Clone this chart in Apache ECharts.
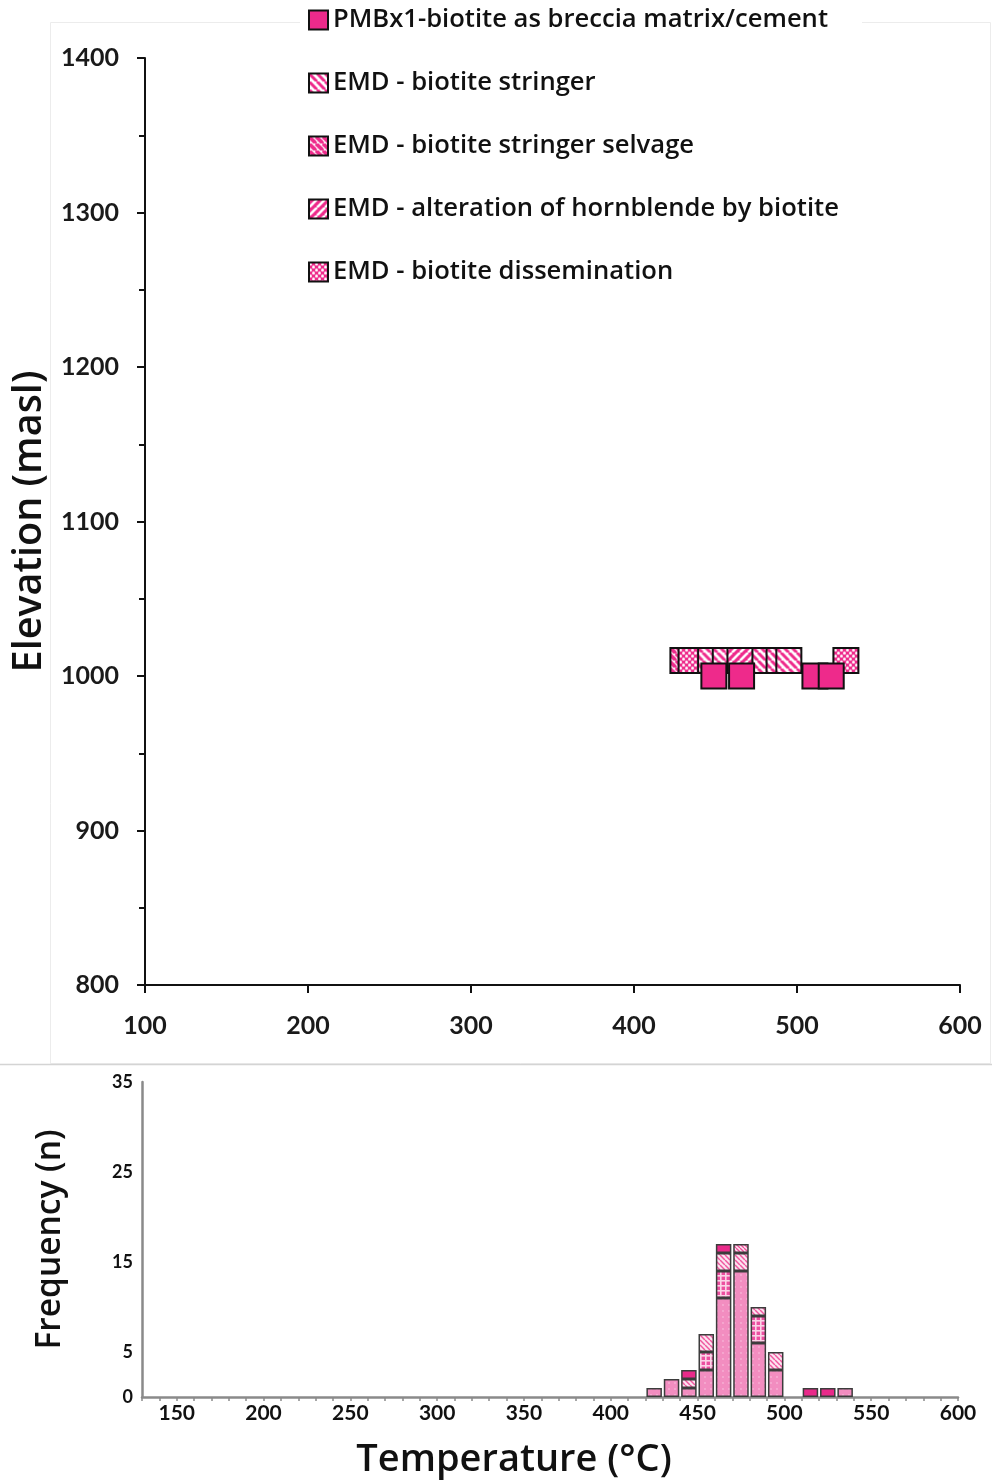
<!DOCTYPE html>
<html>
<head>
<meta charset="utf-8">
<script src="https://cdn.jsdelivr.net/npm/echarts@6/dist/echarts.min.js"></script>
<style>
  html, body { margin: 0; padding: 0; background: #fff; }
  #chart { width: 992px; height: 1482px; }
</style>
</head>
<body>
<div id="chart"></div>
<script>
// ---- Upper panel: biotite temperature (°C) against sample elevation (masl) ----
const pmbTemps        = [449, 466, 511, 521];
const pmbElev         = [1000, 1000, 1000, 1000];
const stringerTemps   = [447, 456, 476, 489, 495];
const stringerElev    = [1010, 1010, 1010, 1010, 1010];
const selvageTemps    = [430, 484];
const selvageElev     = [1010, 1010];
const alterationTemps = [465];
const alterationElev  = [1010];
const dissemTemps     = [435, 530];
const dissemElev      = [1010, 1010];

// ---- Lower panel: temperature histogram, 10 °C bins (bin centres) ----
const binCentres      = [425, 435, 445, 455, 465, 475, 485, 495, 515, 525, 535];
const histDissem      = [1, 2, 1, 3, 11, 14, 6, 3, 0, 0, 1];
const histAlteration  = [0, 0, 0, 2, 3, 0, 3, 0, 0, 0, 0];
const histStringer    = [0, 0, 1, 2, 2, 2, 1, 2, 0, 0, 0];
const histSelvage     = [0, 0, 0, 0, 0, 1, 0, 0, 0, 0, 0];
const histPmb         = [0, 0, 1, 0, 1, 0, 0, 0, 1, 1, 0];
const freqLabels      = [0, 5, 15, 25, 35];

const seriesNames = [
  'PMBx1-biotite as breccia matrix/cement',
  'EMD - biotite stringer',
  'EMD - biotite stringer selvage',
  'EMD - alteration of hornblende by biotite',
  'EMD - biotite dissemination'
];

// Histogram bins span the 130–600 °C axis in 10 °C steps
const HIST_MIN = 130, HIST_MAX = 600, BIN = 10;
const binStarts = [];
for (let t = HIST_MIN; t < HIST_MAX; t += BIN) binStarts.push(t);
const binData = arr => binStarts.map(s => {
  const i = binCentres.indexOf(s + BIN / 2);
  return i >= 0 && arr[i] > 0 ? arr[i] : '-';
});

// ---- fill patterns ----
const PINK = '#EE2A8B';
function makeTile(w, draw) {
  const c = document.createElement('canvas');
  c.width = w; c.height = w;
  draw(c.getContext('2d'), w);
  return c;
}
function diag(g, w, lw, color, dir) {
  g.strokeStyle = color; g.lineWidth = lw;
  for (let k = -1; k <= 1; k++) {
    g.beginPath();
    if (dir > 0) { g.moveTo(k * w, 0); g.lineTo(k * w + w, w); }
    else { g.moveTo(k * w, w); g.lineTo(k * w + w, 0); }
    g.stroke();
  }
}
// pattern for a drawn shape; symbols are scaled from a 2-unit path, so counter-scale their fill
function pattern(canvas, scale) {
  return { image: canvas, repeat: 'repeat', scaleX: scale || 1, scaleY: scale || 1 };
}
const tileStringer = makeTile(8, (g, w) => { g.fillStyle = '#fff'; g.fillRect(0, 0, w, w); diag(g, w, 3, PINK, 1); });
const tileSelvage  = makeTile(7, (g, w) => { g.fillStyle = '#fff'; g.fillRect(0, 0, w, w); diag(g, w, 3.8, PINK, 1); });
const tileAlter    = makeTile(8, (g, w) => { g.fillStyle = PINK; g.fillRect(0, 0, w, w); diag(g, w, 2.6, '#fff', -1); });
const tileDissem   = makeTile(6, (g, w) => {
  g.fillStyle = PINK; g.fillRect(0, 0, w, w);
  g.fillStyle = '#fff';
  [[1.5, 1.5], [4.5, 4.5]].forEach(p => { g.beginPath(); g.arc(p[0], p[1], 1.5, 0, Math.PI * 2); g.fill(); });
});

const histFillDots = pattern(makeTile(6, (g, w) => {
  g.fillStyle = '#F28DC0'; g.fillRect(0, 0, w, w);
  g.fillStyle = '#F7B2D5';
  g.beginPath(); g.arc(3, 3, 0.9, 0, Math.PI * 2); g.fill();
}));
const histFillGrid = pattern(makeTile(5, (g, w) => {
  g.fillStyle = '#EC4FA0'; g.fillRect(0, 0, w, w);
  g.fillStyle = '#FBD3E7'; g.fillRect(0, 0, w, 1.6); g.fillRect(0, 0, 1.6, w);
}));
const histFillHatch  = pattern(makeTile(5, (g, w) => { g.fillStyle = '#FCE3F0'; g.fillRect(0, 0, w, w); diag(g, w, 1.5, '#F0589F', 1); }));
const histFillHatch2 = pattern(makeTile(4, (g, w) => { g.fillStyle = '#FCE3F0'; g.fillRect(0, 0, w, w); diag(g, w, 1.3, '#EE4C98', 1); }));

const MARKER = 25;
const SYM_SCALE = 2 / MARKER;
const markerFills = [PINK, tileStringer, tileSelvage, tileAlter, tileDissem];

const FONT = 'Lato';
const TITLE_FONT = 'Open Sans';
const pairs = (xs, ys) => xs.map((x, i) => [x, ys[i]]);

function scatter(idx, xs, ys, z) {
  const f = markerFills[idx];
  return {
    type: 'scatter', name: seriesNames[idx], xAxisIndex: 0, yAxisIndex: 0,
    symbol: 'rect', symbolSize: MARKER, z,
    data: pairs(xs, ys),
    itemStyle: { color: typeof f === 'string' ? f : pattern(f, SYM_SCALE), borderColor: '#111', borderWidth: 2, opacity: 1 }
  };
}
function histBar(name, arr, fill) {
  return {
    type: 'bar', name, xAxisIndex: 1, yAxisIndex: 1, stack: 'freq',
    barWidth: 15.5, data: binData(arr),
    itemStyle: { color: fill, borderColor: '#3c3c3c', borderWidth: 1.5 }
  };
}

const chart = echarts.init(document.getElementById('chart'), null, { renderer: 'canvas' });
chart.setOption({
  animation: false,
  backgroundColor: '#fff',
  textStyle: { fontFamily: FONT },
  graphic: [
    { type: 'rect', z: -10, shape: { x: 50.5, y: 22.5, width: 940, height: 1041 }, style: { fill: 'none', stroke: '#ececec', lineWidth: 1 } },
    { type: 'rect', z: -9, shape: { x: 300, y: 0, width: 562, height: 40 }, style: { fill: '#fff' } },
    { type: 'line', z: -10, shape: { x1: 0, y1: 1064.5, x2: 992, y2: 1064.5 }, style: { stroke: '#d4d4d4', lineWidth: 1.5 } },
    { type: 'text', z: 10, x: 514, y: 1460,
      style: { text: 'Temperature (°C)', align: 'center', verticalAlign: 'middle',
               fontFamily: TITLE_FONT, fontWeight: 600, fontSize: 38, fill: '#111' } }
  ],
  legend: {
    orient: 'vertical', left: 308, top: 7, padding: 0,
    itemWidth: 19, itemHeight: 19, itemGap: 37, icon: 'rect',
    selectedMode: false,
    textStyle: { fontFamily: TITLE_FONT, fontWeight: 600, fontSize: 25.6, color: '#111', lineHeight: 26 },
    data: seriesNames.map((n, i) => ({
      name: n,
      itemStyle: { color: typeof markerFills[i] === 'string' ? markerFills[i] : pattern(markerFills[i]) }
    }))
  },
  grid: [
    { left: 145, right: 32, top: 58, bottom: 497 },
    { left: 142, right: 34, top: 1082, bottom: 85 }
  ],
  xAxis: [
    {
      gridIndex: 0, type: 'value', min: 100, max: 600, interval: 100, position: 'bottom',
      axisLine: { show: true, lineStyle: { color: '#111', width: 2 } },
      axisTick: { show: true, length: 8, lineStyle: { color: '#111', width: 2 } },
      splitLine: { show: false },
      axisLabel: { margin: 28, fontFamily: FONT, fontWeight: 'bold', fontSize: 25, color: '#1a1a1a',
                   formatter: v => String(v) }
    },
    {
      // bins the bars sit in
      gridIndex: 1, type: 'category', data: binStarts, boundaryGap: true, show: false, position: 'bottom'
    },
    {
      // visible temperature scale under the histogram
      gridIndex: 1, type: 'value', min: HIST_MIN, max: HIST_MAX, interval: BIN, position: 'bottom',
      axisLine: { show: true, onZero: false, lineStyle: { color: '#8a8a8a', width: 2.5 } },
      axisTick: { show: true, length: 4, lineStyle: { color: '#8a8a8a', width: 1.5 } },
      splitLine: { show: false },
      axisLabel: {
        margin: 6, fontFamily: FONT, fontWeight: 'bold', fontSize: 21, color: '#111',
        formatter: v => (v % 50 === 0 ? String(v) : '')
      }
    }
  ],
  yAxis: [
    {
      gridIndex: 0, type: 'value', min: 800, max: 1400, interval: 100,
      name: 'Elevation (masl)', nameLocation: 'middle', nameGap: 83,
      nameTextStyle: { fontFamily: TITLE_FONT, fontWeight: 600, fontSize: 39.5, color: '#111' },
      axisLine: { show: true, lineStyle: { color: '#111', width: 2 } },
      axisTick: { show: true, length: 8, lineStyle: { color: '#111', width: 2 } },
      minorTick: { show: true, splitNumber: 2, length: 6, lineStyle: { color: '#111', width: 2 } },
      splitLine: { show: false },
      axisLabel: { margin: 26, fontFamily: FONT, fontWeight: 'bold', fontSize: 25, color: '#1a1a1a',
                   formatter: v => String(v) }
    },
    {
      gridIndex: 1, type: 'value', min: 0, max: 35, interval: 5,
      name: 'Frequency (n)', nameLocation: 'middle', nameGap: 75,
      nameTextStyle: { fontFamily: TITLE_FONT, fontWeight: 600, fontSize: 33.5, color: '#111' },
      axisLine: { show: true, lineStyle: { color: '#8a8a8a', width: 2.5 } },
      axisTick: { show: false },
      splitLine: { show: false },
      axisLabel: {
        margin: 9, fontFamily: FONT, fontWeight: 'bold', fontSize: 18, color: '#111',
        formatter: v => (freqLabels.indexOf(v) >= 0 ? String(v) : '')
      }
    }
  ],
  series: [
    scatter(2, selvageTemps, selvageElev, 2),
    scatter(4, dissemTemps, dissemElev, 2),
    scatter(1, stringerTemps, stringerElev, 3),
    scatter(3, alterationTemps, alterationElev, 3),
    scatter(0, pmbTemps, pmbElev, 6),
    histBar('Dissemination count', histDissem, histFillDots),
    histBar('Alteration count', histAlteration, histFillGrid),
    histBar('Stringer count', histStringer, histFillHatch),
    histBar('Selvage count', histSelvage, histFillHatch2),
    histBar('PMBx1 count', histPmb, '#E92A8A')
  ]
});
</script>
</body>
</html>
